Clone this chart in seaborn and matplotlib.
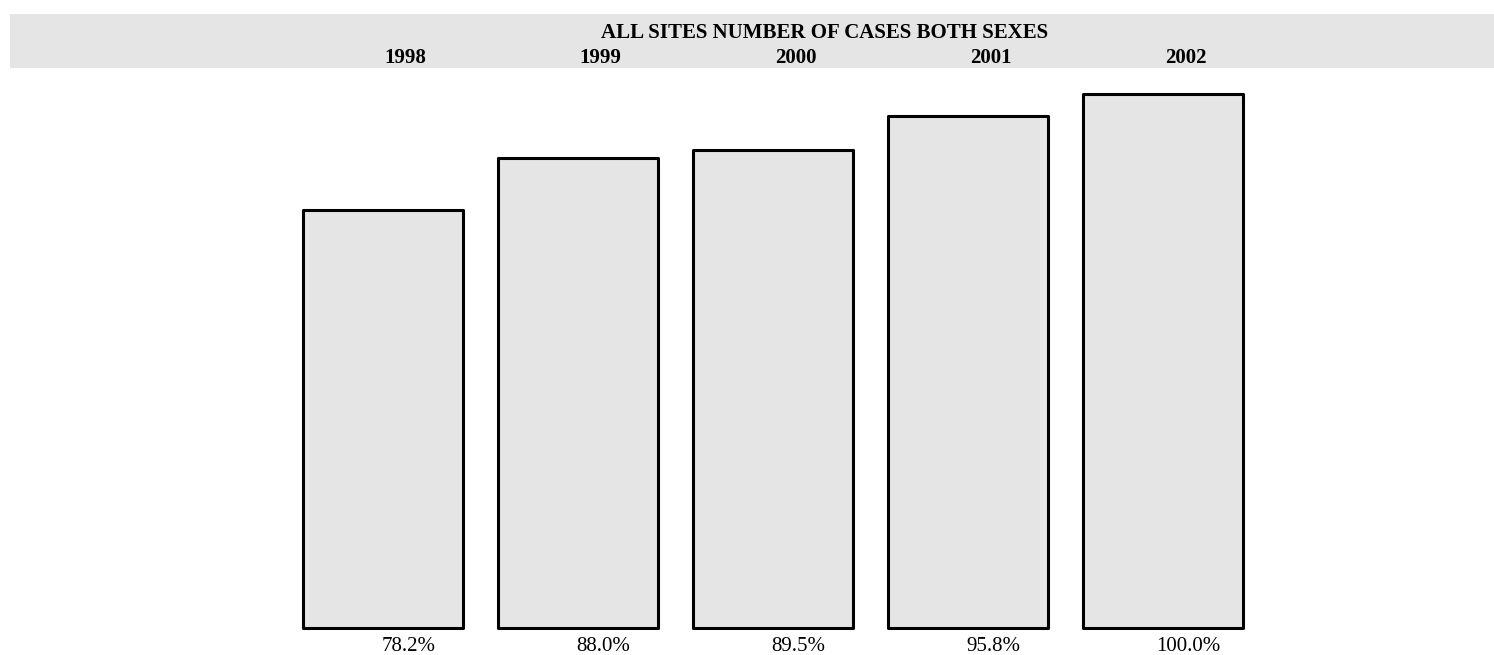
import matplotlib
matplotlib.use("Agg")
import matplotlib.pyplot as plt
from matplotlib.patches import Rectangle
from matplotlib import transforms
import seaborn as sns
import pandas as pd

# Data
years = ["1998", "1999", "2000", "2001", "2002"]
share_of_max = [78.2, 88.0, 89.5, 95.8, 100.0]
title = "ALL SITES NUMBER OF CASES BOTH SEXES"

sns.set_style("white")
plt.rcParams["font.family"] = ["Liberation Serif", "DejaVu Serif"]

W, H = 1494, 655
fig = plt.figure(figsize=(W / 100, H / 100), dpi=100)
fig.patch.set_facecolor("white")

# Header band behind everything
fig.patches.append(Rectangle((10 / W, 1 - 68 / H), (W - 10) / W, 54 / H,
                             transform=fig.transFigure, facecolor="#e5e5e5",
                             edgecolor="none", zorder=-5))

# Axes area: bar baseline and the 100% level placed in pixel terms
base_px, top_px = 628, 94
ax = fig.add_axes([0, (H - base_px) / H, 1, (base_px - top_px) / H])
ax.set_facecolor("none")
ax.set_zorder(1)

df = pd.DataFrame({"year": years, "pct": share_of_max})
sns.barplot(data=df, x="year", y="pct", color="#e5e5e5", saturation=1,
            edgecolor="black", linewidth=2.2, width=0.82, ax=ax)
for p in ax.patches:
    p.set_joinstyle("round")
    p.set_clip_on(False)

# x positions: first bar centre at 383 px, spacing 195 px
ax.set_xlim(-383 / 195, (W - 383) / 195)
ax.set_ylim(0, 100)
ax.axis("off")

# Percentage labels under each bar
for i, v in enumerate(share_of_max):
    ax.text(i + 0.13, -3.4, f"{v:.1f}%", ha="center", va="center",
            fontsize=15, color="black", clip_on=False)

# Title and year captions inside the header band
fig.text(825 / W, 1 - 33 / H, title, ha="center", va="center",
         fontsize=15, fontweight="bold", color="black", zorder=3)
blend = transforms.blended_transform_factory(ax.transData, fig.transFigure)
for i, y in enumerate(years):
    ax.text(i + 0.115, 1 - 58 / H, y, transform=blend, ha="center",
            va="center", fontsize=15, fontweight="bold", color="black",
            clip_on=False)

fig.savefig("out.png", dpi=100)
